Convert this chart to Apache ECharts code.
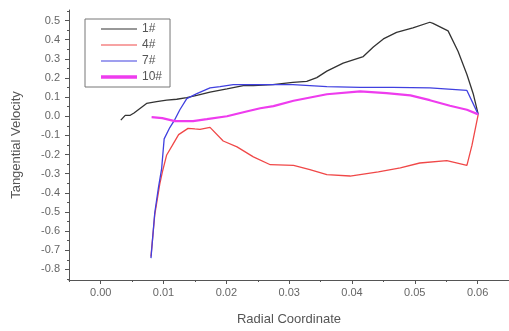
<!DOCTYPE html>
<html>
<head>
<meta charset="utf-8">
<script src="https://cdn.jsdelivr.net/npm/echarts@6/dist/echarts.min.js"></script>
<style>
  html, body { margin: 0; padding: 0; background: #fff; }
  #main { width: 509px; height: 331px; }
</style>
</head>
<body>
<div id="main"></div>
<script>
// 1#
const x1 = [0.0032, 0.0039, 0.0047, 0.0053, 0.0063, 0.0073, 0.0089, 0.0105, 0.0121, 0.0137, 0.0153, 0.0174, 0.0201, 0.0227, 0.0243, 0.0274, 0.0306, 0.0328, 0.0344, 0.0360, 0.0386, 0.0418, 0.0434, 0.0450, 0.0471, 0.0497, 0.0524, 0.0529, 0.0553, 0.0569, 0.0583, 0.0593, 0.0601]
const y1 = [-0.02, 0.005, 0.005, 0.017, 0.042, 0.067, 0.077, 0.084, 0.089, 0.097, 0.109, 0.126, 0.143, 0.160, 0.160, 0.165, 0.177, 0.182, 0.202, 0.236, 0.278, 0.312, 0.362, 0.404, 0.438, 0.462, 0.491, 0.485, 0.446, 0.338, 0.218, 0.118, 0.01]
// 4#
const x4 = [0.0080, 0.0086, 0.0094, 0.0098, 0.0105, 0.0114, 0.0124, 0.0139, 0.0150, 0.0158, 0.0174, 0.0195, 0.0217, 0.0243, 0.0270, 0.0307, 0.0333, 0.0360, 0.0397, 0.0442, 0.0477, 0.0508, 0.0551, 0.0583, 0.0591, 0.0601]
const y4 = [-0.732, -0.515, -0.354, -0.293, -0.202, -0.152, -0.096, -0.063, -0.066, -0.068, -0.058, -0.129, -0.160, -0.212, -0.253, -0.256, -0.278, -0.305, -0.312, -0.290, -0.269, -0.244, -0.232, -0.256, -0.152, 0.01]
// 7#
const x7 = [0.0080, 0.0086, 0.0092, 0.0097, 0.0101, 0.0110, 0.0118, 0.0126, 0.0137, 0.0153, 0.0174, 0.0190, 0.0211, 0.0254, 0.0306, 0.0360, 0.0413, 0.0465, 0.0524, 0.0583, 0.0601]
const y7 = [-0.741, -0.505, -0.370, -0.273, -0.118, -0.059, -0.017, 0.034, 0.092, 0.118, 0.148, 0.155, 0.165, 0.165, 0.165, 0.155, 0.151, 0.151, 0.148, 0.135, 0.01]
// 10#
const x10 = [0.0081, 0.0098, 0.0118, 0.0147, 0.0169, 0.0201, 0.0232, 0.0254, 0.0275, 0.0307, 0.0360, 0.0413, 0.0455, 0.0493, 0.0524, 0.0556, 0.0583, 0.0601]
const y10 = [-0.004, -0.010, -0.025, -0.025, -0.015, 0.000, 0.025, 0.042, 0.053, 0.081, 0.115, 0.130, 0.121, 0.109, 0.084, 0.055, 0.034, 0.01]

const xTicks = [0, 0.01, 0.02, 0.03, 0.04, 0.05, 0.06]
const xMinor = [-0.005, 0.005, 0.015, 0.025, 0.035, 0.045, 0.055]
const yTicks = [0.5, 0.4, 0.3, 0.2, 0.1, 0, -0.1, -0.2, -0.3, -0.4, -0.5, -0.6, -0.7, -0.8]
const yMinor = [0.55, 0.45, 0.35, 0.25, 0.15, 0.05, -0.05, -0.15, -0.25, -0.35, -0.45, -0.55, -0.65, -0.75, -0.85]

const pairs = (xs, ys) => xs.map((x, i) => [x, ys[i]])

const myChart = echarts.init(document.getElementById('main'))
const font = 'Liberation Sans, Arial, sans-serif'
const xMin = -0.00505, xMax = 0.065, yMin = -0.855, yMax = 0.555
// thin and thick line icons for the legend
const thin = 'path://M0,5.5 L36,5.5 L36,6.5 L0,6.5 Z'
const thick = 'path://M0,4.3 L36,4.3 L36,7.7 L0,7.7 Z'

myChart.setOption({
  animation: false,
  textStyle: { fontFamily: font },
  grid: { left: 69, right: 0, top: 10, bottom: 42 },
  legend: {
    left: 85, top: 19,
    orient: 'vertical',
    padding: [4, 8, 4, 16],
    itemWidth: 36, itemHeight: 12, itemGap: 4,
    borderColor: '#777', borderWidth: 1,
    textStyle: { fontSize: 12, color: '#555', fontFamily: font },
    data: [
      { name: '1#', icon: thin },
      { name: '4#', icon: thin },
      { name: '7#', icon: thin },
      { name: '10#', icon: thick }
    ]
  },
  xAxis: [{
    type: 'value', min: xMin, max: xMax,
    name: 'Radial Coordinate', nameLocation: 'middle', nameGap: 33,
    nameTextStyle: { fontSize: 13, color: '#555' },
    axisLine: { onZero: false, lineStyle: { color: '#555' } },
    axisTick: { customValues: xTicks, length: 4, lineStyle: { color: '#555' } },
    axisLabel: { customValues: xTicks, margin: 7, fontSize: 11, color: '#666', formatter: v => v.toFixed(2) },
    splitLine: { show: false }
  }, {
    type: 'value', min: xMin, max: xMax, position: 'bottom',
    axisLine: { show: false, onZero: false },
    axisTick: { customValues: xMinor, length: 2, lineStyle: { color: '#555' } },
    axisLabel: { show: false },
    splitLine: { show: false }
  }],
  yAxis: [{
    type: 'value', min: yMin, max: yMax,
    name: 'Tangential Velocity', nameLocation: 'middle', nameGap: 46,
    nameTextStyle: { fontSize: 13, color: '#555' },
    axisLine: { show: true, onZero: false, lineStyle: { color: '#555' } },
    axisTick: { show: true, customValues: yTicks, length: 4, lineStyle: { color: '#555' } },
    axisLabel: { customValues: yTicks, margin: 9, fontSize: 11, color: '#666', formatter: v => v.toFixed(1) },
    splitLine: { show: false }
  }, {
    type: 'value', min: yMin, max: yMax, position: 'left',
    axisLine: { show: false, onZero: false },
    axisTick: { show: true, customValues: yMinor, length: 2, lineStyle: { color: '#555' } },
    axisLabel: { show: false },
    splitLine: { show: false }
  }],
  series: [
    { name: '1#', type: 'line', symbol: 'none', data: pairs(x1, y1), color: '#333', lineStyle: { width: 1.3 } },
    { name: '4#', type: 'line', symbol: 'none', data: pairs(x4, y4), color: '#f04848', lineStyle: { width: 1.3 } },
    { name: '7#', type: 'line', symbol: 'none', data: pairs(x7, y7), color: '#4040e0', lineStyle: { width: 1.3 } },
    { name: '10#', type: 'line', symbol: 'none', data: pairs(x10, y10), color: '#ee3cee', lineStyle: { width: 2.2 } }
  ]
})
</script>
</body>
</html>
